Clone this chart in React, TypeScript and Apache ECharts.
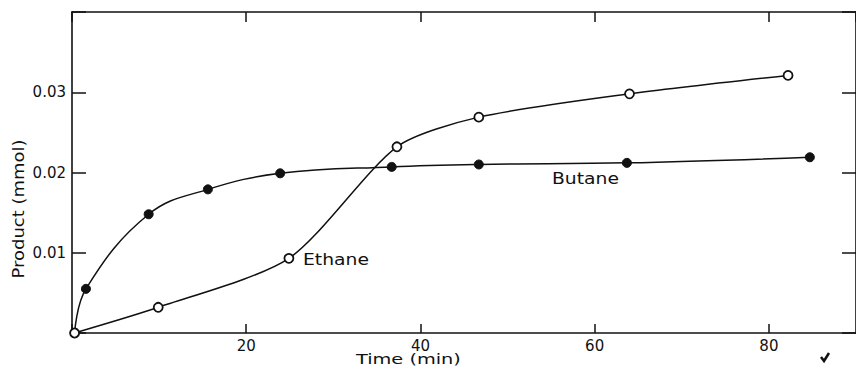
import React, { useEffect, useRef } from "react";
import * as echarts from "echarts";

const butaneTime = [0.3, 1.6, 8.8, 15.6, 23.9, 36.7, 46.7, 63.7, 84.7];
const butaneProduct = [0.0, 0.0055, 0.0148, 0.0179, 0.0199, 0.0207, 0.021, 0.0212, 0.0219];
const ethaneTime = [0.3, 9.9, 24.9, 37.3, 46.7, 64.0, 82.2];
const ethaneProduct = [0.0, 0.0032, 0.0093, 0.0232, 0.0269, 0.0298, 0.0321];
const xTickLabels = [20, 40, 60, 80];
const yTickLabels = [0.01, 0.02, 0.03];

const FONT = "DejaVu Sans";

export default function App() {
  const ref = useRef<HTMLDivElement>(null);
  useEffect(() => {
    if (!ref.current) return;
    const chart = echarts.init(ref.current, null, { renderer: "svg" });
    const axisLine = { show: true, onZero: false, lineStyle: { color: "#111", width: 1.6 } };
    const butaneData = butaneTime.map((t, i) => [t, butaneProduct[i]]);
    const ethaneData = ethaneTime.map((t, i) => [t, ethaneProduct[i]]);
    chart.setOption({
      animation: false,
      backgroundColor: "#fff",
      grid: { left: 72, top: 12, bottom: 36, right: -5, containLabel: false },
      xAxis: [
        {
          type: "value",
          min: 0,
          max: 90,
          interval: 20,
          position: "bottom",
          axisLine,
          axisTick: { show: true, inside: true, length: 9, lineStyle: { color: "#111", width: 1.5 } },
          splitLine: { show: false },
          axisLabel: {
            margin: 5,
            fontFamily: FONT,
            fontSize: 15,
            color: "#111",
            showMaxLabel: false,
            formatter: (v: number) => (xTickLabels.indexOf(Math.round(v)) >= 0 && Math.abs(v - Math.round(v)) < 1e-6 ? String(Math.round(v)) : ""),
          },
        },
        {
          type: "value",
          min: 0,
          max: 90,
          interval: 20,
          position: "top",
          axisLine,
          axisTick: { show: true, inside: true, length: 10, lineStyle: { color: "#111", width: 1.5 } },
          splitLine: { show: false },
          axisLabel: { show: false },
        },
      ],
      yAxis: [
        {
          type: "value",
          min: 0,
          max: 0.04,
          interval: 0.01,
          position: "left",
          axisLine,
          axisTick: { show: true, inside: true, length: 14, lineStyle: { color: "#111", width: 1.5 } },
          splitLine: { show: false },
          axisLabel: {
            margin: 6,
            fontFamily: FONT,
            fontSize: 15,
            color: "#111",
            formatter: (v: number) => {
              const s = v.toFixed(2);
              return yTickLabels.some((t) => t.toFixed(2) === s) ? s : "";
            },
          },
        },
        {
          type: "value",
          min: 0,
          max: 0.04,
          interval: 0.01,
          position: "right",
          axisLine,
          axisTick: { show: true, inside: true, length: 14, lineStyle: { color: "#111", width: 1.5 } },
          splitLine: { show: false },
          axisLabel: { show: false },
        },
      ],
      series: [
        {
          name: "Butane",
          type: "line",
          data: butaneData,
          smooth: 0.4,
          symbol: "circle",
          symbolSize: 9,
          itemStyle: { color: "#111", borderColor: "#111", borderWidth: 1 },
          lineStyle: { color: "#111", width: 1.5 },
          z: 3,
        },
        {
          name: "Ethane",
          type: "line",
          data: ethaneData,
          smooth: 0.25,
          symbol: "circle",
          symbolSize: 9,
          itemStyle: { color: "#fff", borderColor: "#111", borderWidth: 1.8 },
          lineStyle: { color: "#111", width: 1.5 },
          z: 4,
        },
      ],
      graphic: [
        {
          type: "text",
          x: 303,
          y: 260,
          scaleX: 1.25,
          style: { text: "Ethane", fontFamily: FONT, fontSize: 15, fill: "#111", verticalAlign: "middle" },
        },
        {
          type: "text",
          x: 552,
          y: 179,
          scaleX: 1.25,
          style: { text: "Butane", fontFamily: FONT, fontSize: 15, fill: "#111", verticalAlign: "middle" },
        },
        {
          type: "text",
          x: 356,
          y: 359,
          scaleX: 1.38,
          style: { text: "Time (min)", fontFamily: FONT, fontSize: 14, fill: "#111", align: "left", verticalAlign: "middle" },
        },
        {
          type: "text",
          x: 19,
          y: 209,
          rotation: Math.PI / 2,
          scaleX: 1.2,
          style: { text: "Product (mmol)", fontFamily: FONT, fontSize: 15, fill: "#111", align: "center", verticalAlign: "middle" },
        },
        {
          type: "polyline",
          shape: { points: [[821, 357], [824, 361], [829, 353]] },
          style: { stroke: "#111", lineWidth: 2.5, fill: "none" },
        },
      ],
    });
    return () => chart.dispose();
  }, []);
  return <div ref={ref} style={{ position: "fixed", left: 0, top: 0, width: 856, height: 369 }} />;
}
